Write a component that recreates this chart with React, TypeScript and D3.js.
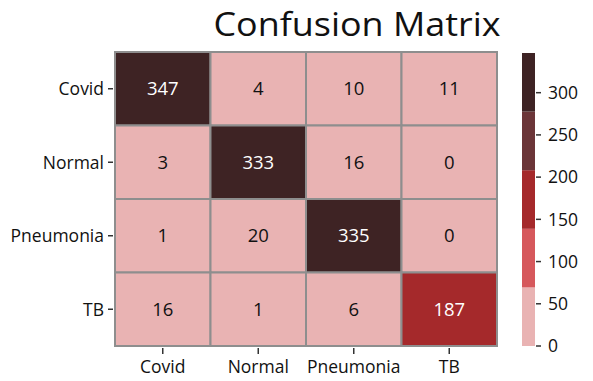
import React from "react";
import * as d3 from "d3";

const classes = ["Covid", "Normal", "Pneumonia", "TB"];
const matrix = [
  [347, 4, 10, 11],
  [3, 333, 16, 0],
  [1, 20, 335, 0],
  [16, 1, 6, 187],
];
const colorBands = ["#e9b3b3", "#d6585c", "#a5292b", "#6b3538", "#3e2324"];
const colorTicks = [0, 50, 100, 150, 200, 250, 300];
const vmax = 347;

const W = 593;
const H = 381;
const FONT = "'Open Sans', sans-serif";

export default function App() {
  const gx0 = 115, gx1 = 497, gy0 = 52, gy1 = 346;
  const x = d3.scaleBand<string>().domain(classes).range([gx0, gx1]);
  const y = d3.scaleBand<string>().domain(classes).range([gy0, gy1]);
  const color = d3.scaleQuantize<string>().domain([0, vmax]).range(colorBands);
  const cbX = 522, cbW = 13;
  const cb = d3.scaleLinear().domain([0, vmax]).range([gy1, gy0 + 1]);
  const bandEdges = d3.range(colorBands.length + 1).map((i) => (i * vmax) / colorBands.length);

  const cells: { r: number; c: number; v: number }[] = [];
  matrix.forEach((row, r) => row.forEach((v, c) => cells.push({ r, c, v })));

  return (
    <svg width={W} height={H} style={{ position: "absolute", left: 0, top: 0, background: "#fff" }}>
      <text x={357} y={36} textAnchor="middle" fontFamily={FONT} fontSize={32} fill="#111"
        textLength={287} lengthAdjust="spacingAndGlyphs">Confusion Matrix</text>
      {cells.map(({ r, c, v }) => (
        <rect key={`r${r}-${c}`} x={x(classes[c])!} y={y(classes[r])!} width={x.bandwidth()} height={y.bandwidth()}
          fill={color(v)} stroke="#8e8e8e" strokeWidth={2} />
      ))}
      {cells.map(({ r, c, v }) => (
        <text key={`t${r}-${c}`} x={x(classes[c])! + x.bandwidth() / 2} y={y(classes[r])! + y.bandwidth() / 2}
          dy="0.36em" textAnchor="middle" fontFamily={FONT} fontSize={18.5}
          fill={v > vmax * 0.4 ? "#ffffff" : "#111"}>{v}</text>
      ))}
      {classes.map((cl) => (
        <g key={`y${cl}`}>
          <line x1={108} x2={113} y1={y(cl)! + y.bandwidth() / 2} y2={y(cl)! + y.bandwidth() / 2} stroke="#333" strokeWidth={1.5} />
          <text x={104} y={y(cl)! + y.bandwidth() / 2} dy="0.36em" textAnchor="end" fontFamily={FONT} fontSize={17.5} fill="#111">{cl}</text>
        </g>
      ))}
      {classes.map((cl) => (
        <g key={`x${cl}`}>
          <line x1={x(cl)! + x.bandwidth() / 2} x2={x(cl)! + x.bandwidth() / 2} y1={348} y2={354} stroke="#333" strokeWidth={1.5} />
          <text x={x(cl)! + x.bandwidth() / 2} y={373} textAnchor="middle" fontFamily={FONT} fontSize={17.5} fill="#111">{cl}</text>
        </g>
      ))}
      {colorBands.map((c, i) => (
        <rect key={`cb${i}`} x={cbX} y={cb(bandEdges[i + 1])} width={cbW} height={cb(bandEdges[i]) - cb(bandEdges[i + 1])} fill={c} />
      ))}
      {colorTicks.map((t) => (
        <g key={`ct${t}`}>
          <line x1={cbX + cbW + 1} x2={cbX + cbW + 6} y1={cb(t)} y2={cb(t)} stroke="#333" strokeWidth={1.5} />
          <text x={cbX + cbW + 13} y={cb(t)} dy="0.36em" fontFamily={FONT} fontSize={17.5} fill="#111">{t}</text>
        </g>
      ))}
    </svg>
  );
}
